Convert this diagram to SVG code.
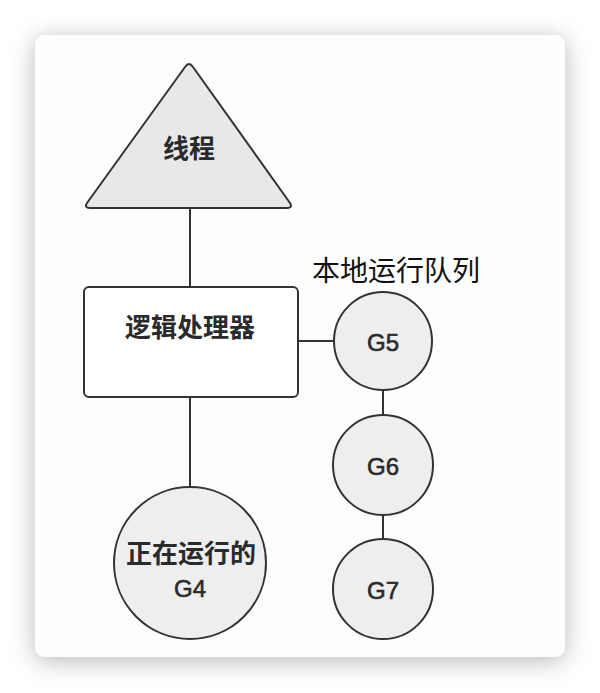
<svg xmlns="http://www.w3.org/2000/svg" width="600" height="693" viewBox="0 0 600 693">
<defs>
<filter id="sh" x="-20%" y="-20%" width="140%" height="140%">
<feDropShadow dx="0" dy="4" stdDeviation="12" flood-color="#000" flood-opacity="0.28"/>
</filter>
<style>
.shape{stroke:#333;stroke-width:2;}
.g{fill:#eeeeee;}
.lbl{font-family:"Liberation Sans","Noto Sans CJK SC",sans-serif;fill:#2a2a2a;stroke:#2a2a2a;stroke-width:0.6;text-anchor:middle;font-size:24px;}
.cjk{font-family:"Noto Sans CJK SC",sans-serif;fill:#2a2a2a;text-anchor:middle;font-weight:bold;}
.conn line{stroke:#333;stroke-width:2;}
</style>
</defs>
<rect width="600" height="693" fill="#ffffff"/>
<rect x="35" y="35" width="530" height="622" rx="10" fill="#fdfdfd" filter="url(#sh)"/>
<g class="conn">
<line x1="190" y1="208" x2="190" y2="287"/>
<line x1="190" y1="397" x2="190" y2="487"/>
<line x1="298" y1="341" x2="334" y2="341"/>
<line x1="383" y1="390" x2="383" y2="415"/>
<line x1="383" y1="515" x2="383" y2="539"/>
</g>
<g id="thread">
<path class="shape" d="M185,67 Q189,61 193,67 L290,203 Q293,208 287,208 L90,208 Q84,208 87,203 Z" fill="#e8e8e8" stroke-linejoin="round"/>
<text class="cjk" x="189" y="158" font-size="26">线程</text>
</g>
<g id="processor">
<rect class="shape" x="84" y="287" width="214" height="110" rx="5" fill="#ffffff"/>
<text class="cjk" x="190" y="337" font-size="26">逻辑处理器</text>
</g>
<g id="g4">
<circle class="shape g" cx="190" cy="563" r="76"/>
<text class="cjk" x="191" y="563" font-size="26">正在运行的</text>
<text class="lbl" x="190" y="597">G4</text>
</g>
<g id="g5">
<circle class="shape g" cx="383" cy="341" r="49"/>
<text class="lbl" x="383" y="351">G5</text>
</g>
<g id="g6">
<circle class="shape g" cx="383" cy="465" r="50"/>
<text class="lbl" x="383" y="475">G6</text>
</g>
<g id="g7">
<circle class="shape g" cx="383" cy="589" r="50"/>
<text class="lbl" x="383" y="599">G7</text>
</g>
<g id="queue-label">
<text x="396" y="281" font-size="28" font-family="Noto Sans CJK SC,sans-serif" fill="#111" text-anchor="middle">本地运行队列</text>
</g>
</svg>
